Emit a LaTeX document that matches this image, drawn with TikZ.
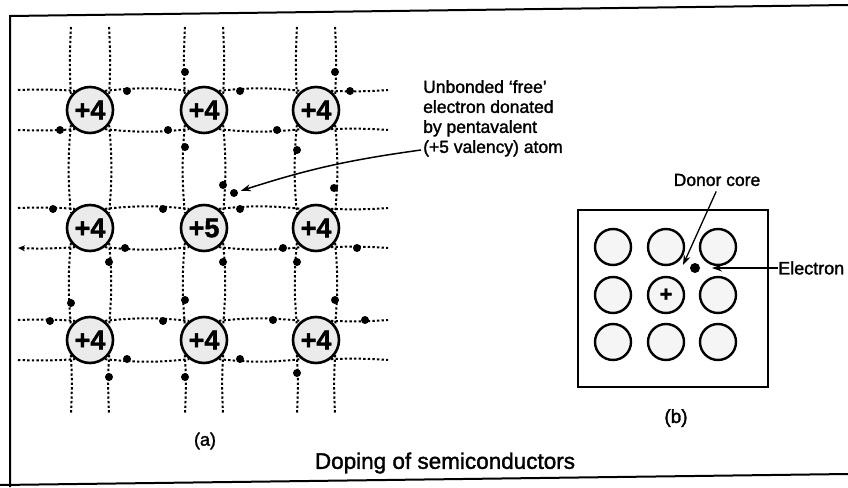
\documentclass[tikz,border=0pt]{standalone}
\usepackage{fontspec}
\setmainfont[FakeBold=1.6]{Liberation Sans}
\usetikzlibrary{arrows.meta}
\begin{document}
\begin{tikzpicture}[x=1pt,y=-1pt,
  atom/.style={circle,draw,line width=2.6pt,fill=gray!16,minimum size=46pt,inner sep=0pt,
    font=\fontsize{27}{27}\selectfont\bfseries},
  bond/.style={line width=2pt,dash pattern=on 2.4pt off 2.2pt},
  electron/.style={circle,fill,inner sep=0pt,minimum size=8pt},
  site/.style={circle,draw,line width=2.4pt,fill=gray!8,minimum size=36pt,inner sep=0pt},
  lbl/.style={font=\fontsize{17.5}{20}\selectfont,align=left,inner sep=0pt},
  pointer/.style={line width=1.5pt,-{Stealth[length=10pt,width=7pt]}},
  frame/.style={line width=2pt},
]
\useasboundingbox (0,0) rectangle (848,487);

% page frame
\draw[frame] (10,487) -- (10,16) -- (848,5);
\draw[frame] (0,485) -- (848,474);

% ---------- (a) silicon lattice with a pentavalent donor ----------
\node[atom] (a11) at (90,110)  {+4};
\node[atom] (a12) at (204,110) {+4};
\node[atom] (a13) at (316,110) {+4};
\node[atom] (a21) at (90,228)  {+4};
\node[atom] (a22) at (204,228) {+5};
\node[atom] (a23) at (316,228) {+4};
\node[atom] (a31) at (90,340)  {+4};
\node[atom] (a32) at (204,340) {+4};
\node[atom] (a33) at (316,340) {+4};

% horizontal covalent bonds (upper and lower line of every row)
\foreach \r/\y in {1/110,2/228,3/340}{
  \draw[bond] (18,\y-20) to[bend left=3] (a\r1.128);
  \draw[bond] (a\r1.52) to[bend left=6] (a\r2.128);
  \draw[bond] (a\r2.52) to[bend left=6] (a\r3.128);
  \draw[bond] (a\r3.52) to[bend right=3] (388,\y-20);
  \draw[bond] (a\r1.308) to[bend right=6] (a\r2.232);
  \draw[bond] (a\r2.308) to[bend right=6] (a\r3.232);
  \draw[bond] (a\r3.308) to[bend left=3] (388,\y+20);
}
\draw[bond] (18,130) to[bend right=3] (a11.232);
\draw[bond,{Stealth[length=7pt,width=6pt]}-] (18,248) to[bend right=3] (a21.232);
\draw[bond] (18,360) to[bend right=3] (a31.232);

% vertical covalent bonds (left and right line of every column)
\foreach \c/\x in {1/90,2/204,3/316}{
  \draw[bond] (\x-19,27) to[bend right=3] (a1\c.142);
  \draw[bond] (a1\c.218) to[bend right=5] (a2\c.142);
  \draw[bond] (a2\c.218) to[bend right=5] (a3\c.142);
  \draw[bond] (a3\c.218) to[bend left=3] (\x-19,413);
  \draw[bond] (\x+19,27) to[bend left=3] (a1\c.38);
  \draw[bond] (a1\c.322) to[bend left=5] (a2\c.38);
  \draw[bond] (a2\c.322) to[bend left=5] (a3\c.38);
  \draw[bond] (a3\c.322) to[bend right=3] (\x+19,413);
}

% bonding electrons
\foreach \x/\y [count=\i] in {
  127/91, 240/91, 350/91, 60/130, 168/130, 277/130,
  53/209, 163/209, 240/209, 125/248, 283/248, 357/248,
  50/321, 163/321, 273/320, 365/320, 127/359, 240/359,
  185/72, 185/147, 185/300, 185/377,
  335/72, 334/188, 335/300,
  297/150, 297/262, 297/373,
  223/185, 223/262,
  109/262, 109/377, 71/303}
  \node[electron] (b\i) at (\x,\y) {};

% the unbonded electron of the donor
\node[electron] (free) at (234,193) {};

\node[lbl,anchor=north west] (note) at (423,80)
  {Unbonded ‘free’\\electron donated\\by pentavalent\\(+5 valency) atom};
\coordinate (noteTail) at (421,150);
\draw[pointer,shorten >=3pt] (noteTail) to[bend right=5] (free);

\node[font=\fontsize{18}{18}\selectfont] (capA) at (205,441) {(a)};

% ---------- (b) donor core in the crystal ----------
\node[draw,line width=2pt,minimum width=190pt,minimum height=177pt,inner sep=0pt]
  (crystal) at (673,298.5) {};
\node[site] (s11) at (613,247) {};
\node[site] (s12) at (666,247) {};
\node[site] (s13) at (718,247) {};
\node[site] (s21) at (613,295) {};
\node[site,font=\fontsize{22}{22}\selectfont\bfseries] (s22) at (666,295) {+};
\node[site] (s23) at (718,295) {};
\node[site] (s31) at (613,342) {};
\node[site] (s32) at (666,342) {};
\node[site] (s33) at (718,342) {};

\node[electron,minimum size=10pt] (donorE) at (695,268) {};

\node[font=\fontsize{17.5}{17.5}\selectfont] (donorLbl) at (717,180) {Donor core};
\coordinate (coreTip) at (683,265);
\draw[pointer,line width=1.3pt,shorten <=2pt] (donorLbl.south) -- (coreTip);

\node[font=\fontsize{18}{18}\selectfont,anchor=west,inner sep=0pt] (eLbl) at (778,268) {Electron};
\coordinate (eTip) at (712,268);
\draw[pointer,line width=1.3pt] (eLbl.west) -- (eTip);

\node[font=\fontsize{19}{19}\selectfont] (capB) at (676,418) {(b)};

\node[font=\fontsize{22.5}{22.5}\selectfont] (title) at (445,463) {Doping of semiconductors};
\end{tikzpicture}
\end{document}
